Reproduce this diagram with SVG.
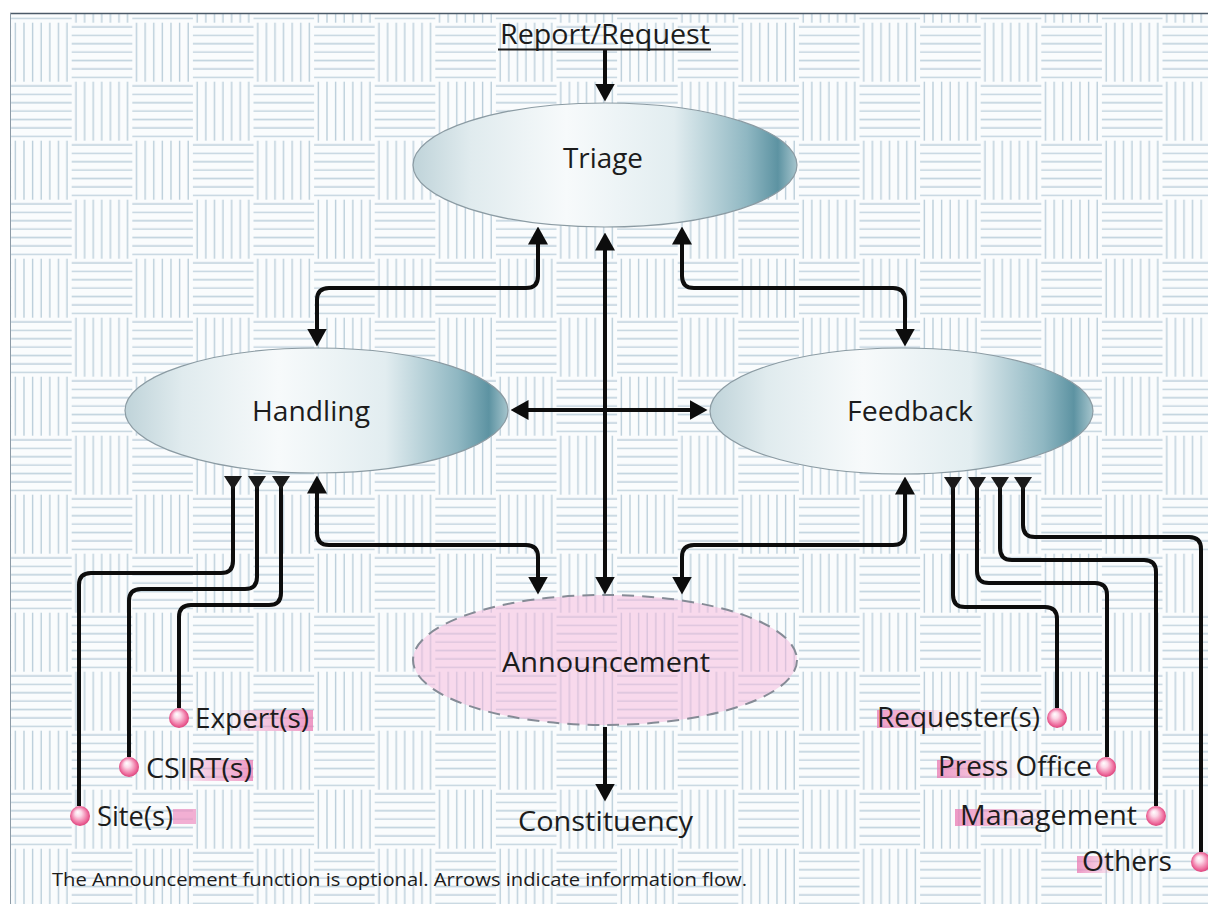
<svg xmlns="http://www.w3.org/2000/svg" width="1208" height="904" viewBox="0 0 1208 904">
<defs>
<style>
.t{font-family:"Open Sans","Noto Sans","DejaVu Sans",sans-serif;fill:#1c1c1c;}
.n{font-size:28px;}
.l{font-size:27px;}
.f{font-size:19px;}
.c{fill:none;stroke:#0d0d0d;stroke-width:4;stroke-linejoin:round;}
.ah{marker-start:url(#ah);marker-end:url(#ah);}
.ae{marker-end:url(#ah);}
.in{marker-start:url(#tri);}
.ell{fill:url(#blue);stroke:#8b9ba3;stroke-width:1.2;}
.dot{fill:url(#sph);}
.pl{stroke:#bccfdb;stroke-width:1.4;fill:none;}
</style>
<pattern id="weave" patternUnits="userSpaceOnUse" x="11.1" y="22.7" width="121.2" height="118">
<rect width="121.2" height="118" fill="#fafcfd"/>
<path class="pl" d="M4.3,0V59M12.9,0V59M21.5,0V59M30.1,0V59M38.7,0V59M47.3,0V59M55.9,0V59M64.9,59V118M73.5,59V118M82.1,59V118M90.7,59V118M99.3,59V118M107.9,59V118M116.5,59V118M60.6,4.2H121.2M60.6,12.6H121.2M60.6,21H121.2M60.6,29.4H121.2M60.6,37.8H121.2M60.6,46.2H121.2M60.6,54.6H121.2M0,63.2H60.6M0,71.6H60.6M0,80H60.6M0,88.4H60.6M0,96.8H60.6M0,105.2H60.6M0,113.6H60.6"/>
</pattern>
<linearGradient id="blue" x1="0" y1="0" x2="1" y2="0">
<stop offset="0" stop-color="#bfd3d9"/>
<stop offset="0.15" stop-color="#e0ebee"/>
<stop offset="0.4" stop-color="#f7fafb"/>
<stop offset="0.68" stop-color="#e2edf0"/>
<stop offset="0.87" stop-color="#8fb7c2"/>
<stop offset="0.95" stop-color="#5d93a2"/>
<stop offset="1" stop-color="#a6c5cd"/>
</linearGradient>
<radialGradient id="sph" cx="0.5" cy="0.5" r="0.55" fx="0.38" fy="0.3">
<stop offset="0" stop-color="#ffffff"/>
<stop offset="0.3" stop-color="#fcd9e8"/>
<stop offset="0.75" stop-color="#ee6d9e"/>
<stop offset="1" stop-color="#d63570"/>
</radialGradient>
<linearGradient id="pinkR" x1="0" y1="0" x2="1" y2="0">
<stop offset="0" stop-color="#f08cbe" stop-opacity="0"/>
<stop offset="0.35" stop-color="#f095c3" stop-opacity="0.45"/>
<stop offset="1" stop-color="#ea78b2" stop-opacity="0.75"/>
</linearGradient>
<linearGradient id="pinkL" x1="1" y1="0" x2="0" y2="0">
<stop offset="0" stop-color="#f08cbe" stop-opacity="0"/>
<stop offset="0.35" stop-color="#f095c3" stop-opacity="0.45"/>
<stop offset="1" stop-color="#ea78b2" stop-opacity="0.75"/>
</linearGradient>
<marker id="ah" markerUnits="userSpaceOnUse" markerWidth="18" markerHeight="20" viewBox="0 0 18 20" refX="0.5" refY="10" orient="auto-start-reverse">
<path d="M0,0 L18,10 L0,20 z" fill="#0d0d0d"/>
</marker>
<marker id="tri" markerUnits="userSpaceOnUse" markerWidth="14" markerHeight="18" viewBox="0 0 14 18" refX="0" refY="9" orient="auto">
<path d="M0,0 L14,9 L0,18 z" fill="#1a1a1a"/>
</marker>
</defs>

<rect width="1208" height="904" fill="#ffffff"/>
<rect x="10" y="13" width="1198" height="891" fill="url(#weave)"/>
<line x1="10" y1="13.5" x2="1208" y2="13.5" stroke="#4b5a68" stroke-width="1.5"/>
<line x1="10.5" y1="13" x2="10.5" y2="904" stroke="#8c9aa6" stroke-width="1"/>

<g id="connectors">
<path class="c ae" d="M605,50 L605,84"/>
<path class="c ah" d="M605,250 L605,577"/>
<path class="c ah" d="M538,244 L538,276 Q538,288 526,288 L329,288 Q317,288 317,300 L317,329"/>
<path class="c ah" d="M682,244 L682,276 Q682,288 694,288 L893,288 Q905,288 905,300 L905,329"/>
<path class="c ah" d="M528,410 L690,410"/>
<path class="c ah" d="M317,493 L317,533 Q317,545 329,545 L526,545 Q538,545 538,557 L538,577"/>
<path class="c ah" d="M905,494 L905,533 Q905,545 893,545 L694,545 Q682,545 682,557 L682,577"/>
<path class="c ae" d="M605,727 L605,784"/>
<path class="c in" d="M233,476 L233,561 Q233,573 221,573 L91,573 Q79,573 79,585 L79,806"/>
<path class="c in" d="M257,476 L257,577 Q257,589 245,589 L141,589 Q129,589 129,601 L129,757"/>
<path class="c in" d="M281,476 L281,593 Q281,605 269,605 L191,605 Q179,605 179,617 L179,708"/>
<path class="c in" d="M953,477 L953,595 Q953,607 965,607 L1045,607 Q1057,607 1057,619 L1057,708"/>
<path class="c in" d="M977,477 L977,571 Q977,583 989,583 L1095,583 Q1107,583 1107,595 L1107,757"/>
<path class="c in" d="M1000,477 L1000,548 Q1000,560 1012,560 L1144,560 Q1156,560 1156,572 L1156,806"/>
<path class="c in" d="M1023,477 L1023,525 Q1023,537 1035,537 L1189,537 Q1201,537 1201,549 L1201,852"/>
</g>

<g id="report-request">
<text class="t n" x="500" y="44" textLength="210" lengthAdjust="spacingAndGlyphs">Report/Request</text>
<line x1="498" y1="49.5" x2="711" y2="49.5" stroke="#1c1c1c" stroke-width="2"/>
</g>

<g id="triage">
<ellipse class="ell" cx="605" cy="165" rx="192" ry="62"/>
<text class="t n" x="563" y="168" textLength="80" lengthAdjust="spacingAndGlyphs">Triage</text>
</g>

<g id="handling">
<ellipse class="ell" cx="316.5" cy="410.5" rx="191.5" ry="62.5"/>
<text class="t n" x="252" y="421" textLength="118" lengthAdjust="spacingAndGlyphs">Handling</text>
</g>

<g id="feedback">
<ellipse class="ell" cx="901.5" cy="411" rx="191.5" ry="63"/>
<text class="t n" x="847" y="421" textLength="126" lengthAdjust="spacingAndGlyphs">Feedback</text>
</g>

<g id="announcement">
<ellipse cx="605" cy="660" rx="192" ry="65" fill="#f5b5dc" fill-opacity="0.5" stroke="#858b96" stroke-width="2" stroke-dasharray="12 8"/>
<text class="t n" x="502" y="672" textLength="208" lengthAdjust="spacingAndGlyphs">Announcement</text>
</g>

<g id="constituency">
<text class="t n" x="518" y="831" textLength="175" lengthAdjust="spacingAndGlyphs">Constituency</text>
</g>

<g id="experts">
<rect x="227" y="710" width="86" height="21" fill="url(#pinkR)"/>
<circle class="dot" cx="179" cy="718" r="10"/>
<text class="t l" x="195" y="728" textLength="114" lengthAdjust="spacingAndGlyphs">Expert(s)</text>
</g>

<g id="csirts">
<rect x="180" y="760" width="73" height="21" fill="url(#pinkR)"/>
<circle class="dot" cx="129" cy="767" r="10"/>
<text class="t l" x="146" y="778" textLength="106" lengthAdjust="spacingAndGlyphs">CSIRT(s)</text>
</g>

<g id="sites">
<rect x="173" y="809" width="23" height="15" fill="#ee8fc0" fill-opacity="0.7"/>
<circle class="dot" cx="80" cy="816" r="10"/>
<text class="t l" x="97" y="826" textLength="76" lengthAdjust="spacingAndGlyphs">Site(s)</text>
</g>

<g id="requesters">
<rect x="877" y="710" width="71" height="18" fill="url(#pinkL)"/>
<circle class="dot" cx="1057" cy="718" r="10"/>
<text class="t l" x="877" y="727" textLength="163" lengthAdjust="spacingAndGlyphs">Requester(s)</text>
</g>

<g id="press-office">
<rect x="937" y="760" width="81" height="18" fill="url(#pinkL)"/>
<circle class="dot" cx="1106" cy="767" r="10"/>
<text class="t l" x="938" y="776" textLength="154" lengthAdjust="spacingAndGlyphs">Press Office</text>
</g>

<g id="management">
<rect x="955" y="809" width="93" height="17" fill="url(#pinkL)"/>
<circle class="dot" cx="1156" cy="816" r="10"/>
<text class="t l" x="960" y="825" textLength="177" lengthAdjust="spacingAndGlyphs">Management</text>
</g>

<g id="others">
<rect x="1077" y="856" width="37" height="17" fill="url(#pinkL)"/>
<circle class="dot" cx="1201" cy="862" r="10"/>
<text class="t l" x="1082" y="871" textLength="90" lengthAdjust="spacingAndGlyphs">Others</text>
</g>

<g id="footer">
<text class="t f" x="52" y="886" textLength="695" lengthAdjust="spacingAndGlyphs">The Announcement function is optional. Arrows indicate information flow.</text>
</g>
</svg>
